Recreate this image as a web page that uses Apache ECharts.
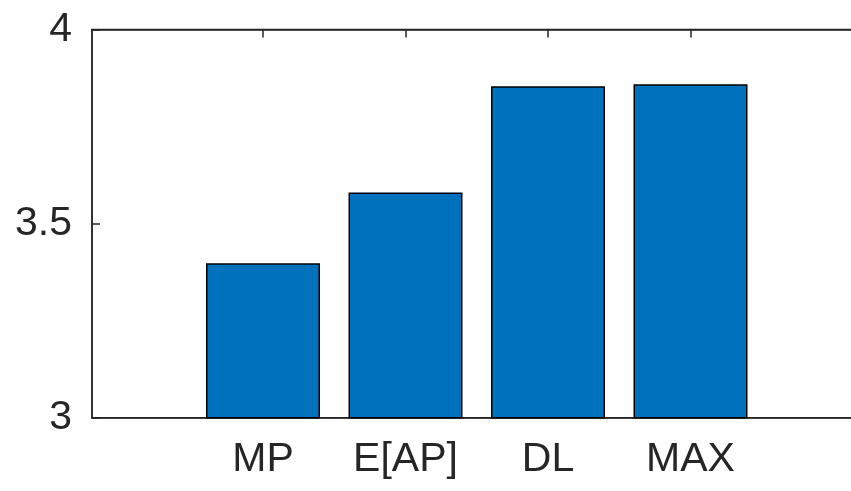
<!DOCTYPE html>
<html>
<head>
<meta charset="utf-8">
<script src="https://cdn.jsdelivr.net/npm/echarts@6/dist/echarts.min.js"></script>
<style>html,body{margin:0;padding:0;background:#fff;}#c{width:851px;height:491px;}</style>
</head>
<body>
<div id="c"></div>
<script>
const categories = ['MP', 'E[AP]', 'DL', 'MAX'];
const positions = [1, 2, 3, 4];
const values = [3.398, 3.580, 3.854, 3.859];
const yTicks = [3, 3.5, 4];

const axisColor = '#262626';
const font = '"Liberation Sans", Arial, Helvetica, sans-serif';
const chart = echarts.init(document.getElementById('c'), null, {renderer: 'canvas'});
chart.setOption({
  animation: false,
  backgroundColor: '#ffffff',
  grid: {left: 92, top: 29.5, height: 388.2, width: 769.5, show: true, borderColor: axisColor, borderWidth: 1.5,
         containLabel: false, outerBoundsMode: 'none'},
  xAxis: [{
    type: 'value', min: -0.2, max: 5.2, position: 'bottom',
    splitLine: {show: false},
    axisLine: {show: true, onZero: false, lineStyle: {color: axisColor, width: 1.5}},
    axisTick: {show: true, inside: true, length: 8, customValues: positions, lineStyle: {color: axisColor, width: 1.5}},
    axisLabel: {show: true, customValues: positions, margin: 21, color: axisColor, fontSize: 41, fontFamily: font,
      formatter: v => categories[positions.indexOf(v)] || ''}
  }, {
    type: 'value', min: -0.2, max: 5.2, position: 'top',
    splitLine: {show: false},
    axisLine: {show: true, onZero: false, lineStyle: {color: axisColor, width: 1.5}},
    axisTick: {show: true, inside: true, length: 8, customValues: positions, lineStyle: {color: axisColor, width: 1.5}},
    axisLabel: {show: false}
  }],
  yAxis: {
    type: 'value', min: 3, max: 4, interval: 0.5, position: 'left',
    splitLine: {show: false},
    axisLine: {show: true, onZero: false, lineStyle: {color: axisColor, width: 1.5}},
    axisTick: {show: true, inside: true, length: 8, lineStyle: {color: axisColor, width: 1.5}},
    axisLabel: {color: axisColor, fontSize: 41, fontFamily: font, margin: 20,
      customValues: yTicks, formatter: v => String(v)}
  },
  series: [{
    type: 'bar',
    xAxisIndex: 0,
    data: positions.map((p, i) => [p, values[i]]),
    barWidth: '80%',
    clip: true,
    itemStyle: {color: '#0072BD', borderColor: '#000000', borderWidth: 1.5}
  }]
});
</script>
</body>
</html>
